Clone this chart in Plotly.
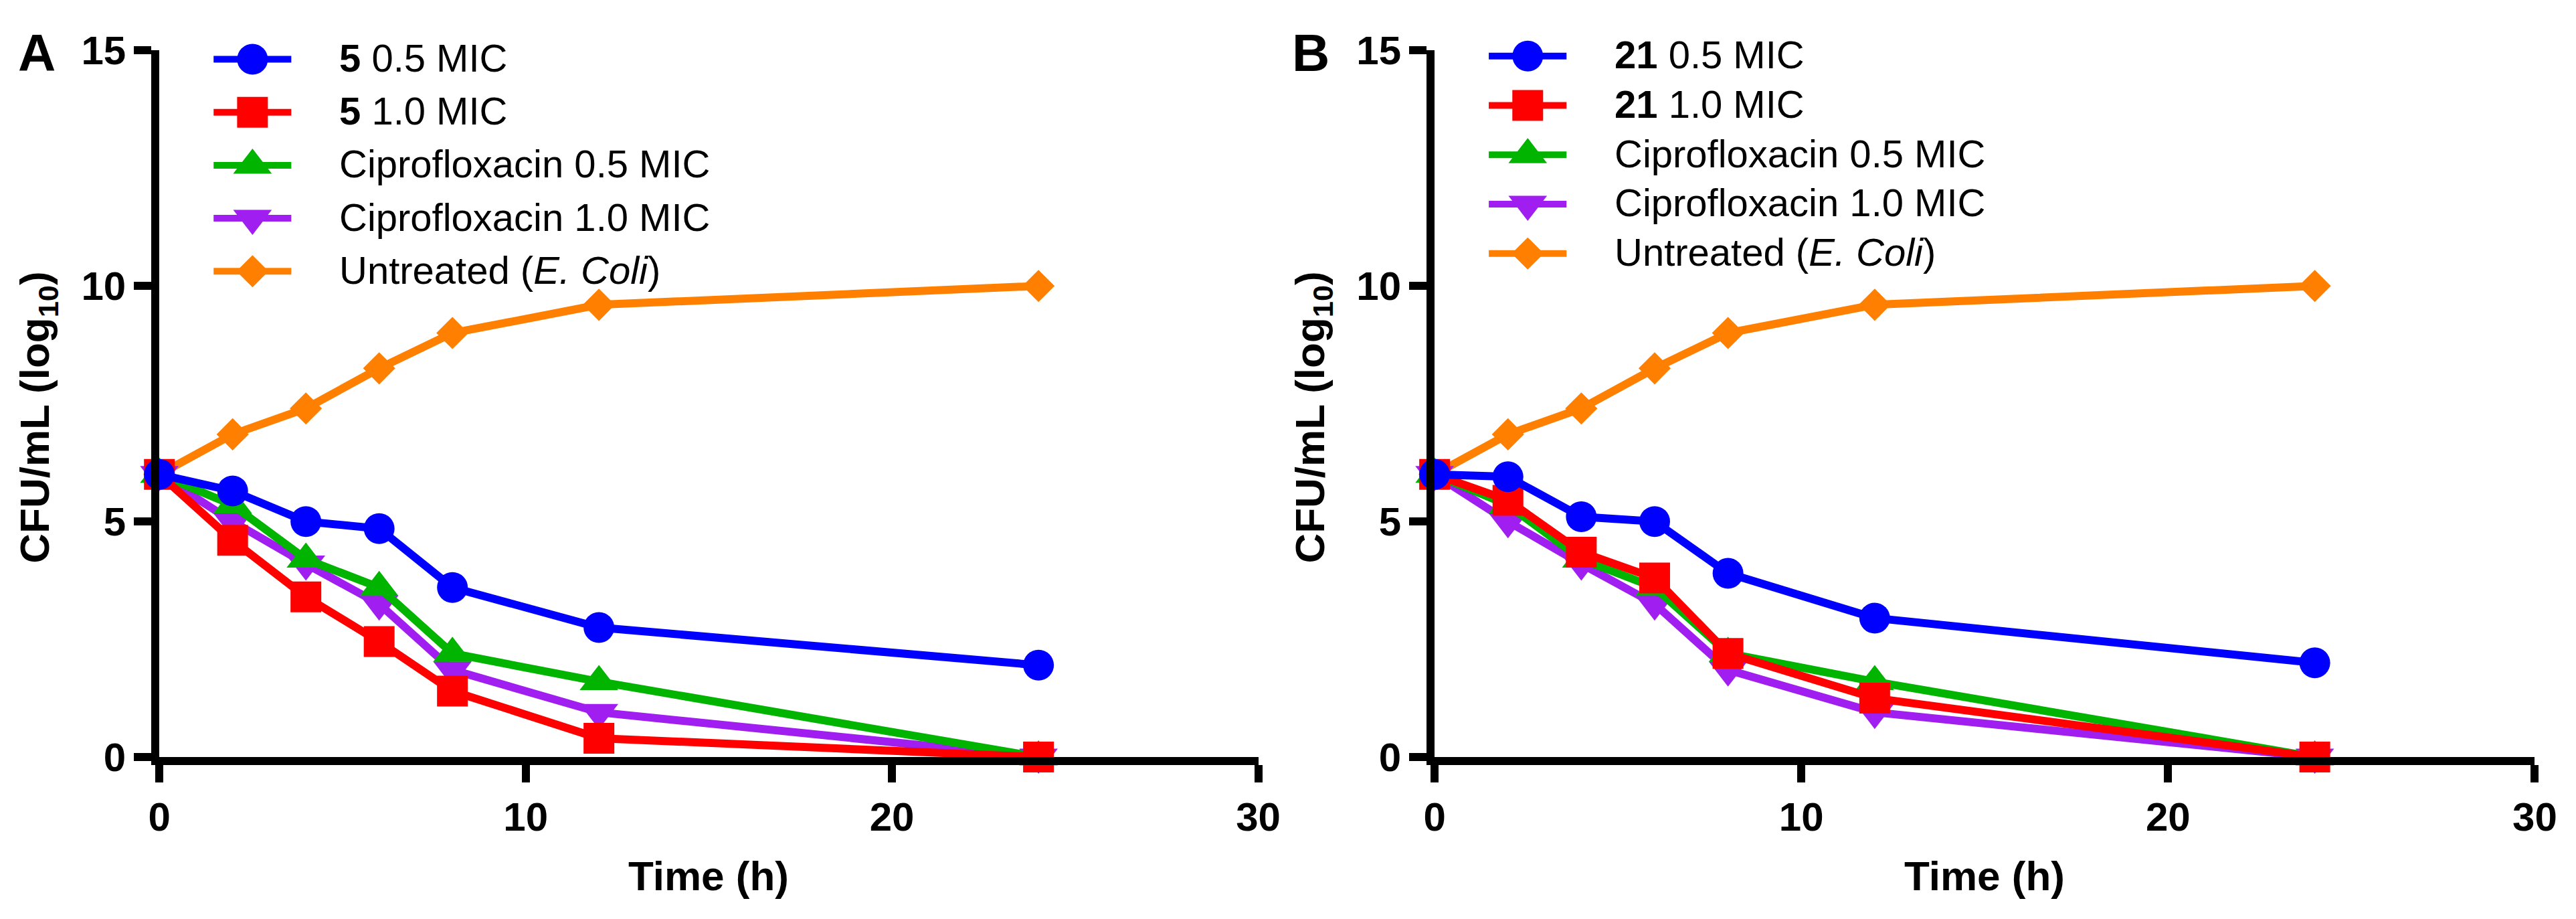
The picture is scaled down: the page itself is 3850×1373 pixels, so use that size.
import plotly.graph_objects as go

# sampling times (h)
time_h = [0, 2, 4, 6, 8, 12, 24]

# panel A - compound 5
cmpd5_05 = [6.0, 5.65, 5.0, 4.85, 3.6, 2.75, 1.95]
cmpd5_10 = [6.0, 4.6, 3.4, 2.45, 1.4, 0.4, 0.0]
# panel B - compound 21
cmpd21_05 = [6.0, 5.95, 5.1, 5.0, 3.9, 2.95, 2.0]
cmpd21_10 = [6.0, 5.45, 4.35, 3.8, 2.2, 1.25, 0.0]
# controls (same in both panels)
cipro_05 = [6.0, 5.35, 4.2, 3.6, 2.2, 1.6, 0.0]
cipro_10 = [6.0, 5.0, 4.1, 3.25, 1.85, 0.95, 0.0]
untreated = [6.0, 6.85, 7.4, 8.25, 9.0, 9.6, 10.0]

names_a = ["<b>5</b> 0.5 MIC", "<b>5</b> 1.0 MIC", "Ciprofloxacin 0.5 MIC",
           "Ciprofloxacin 1.0 MIC", "Untreated (<i>E. Coli</i>)"]
names_b = ["<b>21</b> 0.5 MIC", "<b>21</b> 1.0 MIC", "Ciprofloxacin 0.5 MIC",
           "Ciprofloxacin 1.0 MIC", "Untreated (<i>E. Coli</i>)"]

x_ticks = [0, 10, 20, 30]
y_ticks = [0, 5, 10, 15]

colors = ["#0000FF", "#FF0000", "#00B400", "#A01EF0", "#FF8000"]
symbols = ["circle", "square", "triangle-up", "triangle-down", "diamond"]
msizes = [46, 46, 50, 50, 37]

W, H = 3850, 1373
FONT = "Liberation Sans, Arial, sans-serif"

def px_x(p):
    return p / W

def px_y(p):
    # pixel measured from the top -> paper fraction
    return (H - p) / H

fig = go.Figure()

panels = [
    ("x", "y", [cmpd5_05, cmpd5_10, cipro_05, cipro_10, untreated]),
    ("x2", "y2", [cmpd21_05, cmpd21_10, cipro_05, cipro_10, untreated]),
]

# draw orange first so blue ends up on top
for xa, ya, series in panels:
    for i in reversed(range(5)):
        fig.add_trace(go.Scatter(
            x=time_h, y=series[i], xaxis=xa, yaxis=ya,
            mode="lines+markers", cliponaxis=False, showlegend=False,
            line=dict(color=colors[i], width=12),
            marker=dict(symbol=symbols[i], size=msizes[i], color=colors[i],
                        line=dict(width=0)),
        ))

# hand-made legends (plotly caps legend marker size)
legends = [("x3", "y3", names_a), ("x4", "y4", names_b)]
for xa, ya, names in legends:
    for i in reversed(range(5)):
        fig.add_trace(go.Scatter(
            x=[0, 1], y=[i, i], xaxis=xa, yaxis=ya, mode="lines",
            showlegend=False, hoverinfo="skip",
            line=dict(color=colors[i], width=10)))
        fig.add_trace(go.Scatter(
            x=[0.5], y=[i], xaxis=xa, yaxis=ya, mode="markers",
            cliponaxis=False, showlegend=False, hoverinfo="skip",
            marker=dict(symbol=symbols[i], size=msizes[i], color=colors[i],
                        line=dict(width=0))))
        fig.add_annotation(x=1, y=i, xref=xa, yref=ya, text=names[i],
                           showarrow=False, xanchor="left", yanchor="middle",
                           xshift=69, yshift=2,
                           font=dict(family=FONT, size=58, color="black"))

axis_common = dict(
    showline=True, linewidth=12, linecolor="black", mirror=False,
    ticks="outside", ticklen=26, tickwidth=12, tickcolor="black",
    showgrid=False, zeroline=False,
    tickfont=dict(family=FONT, size=60, color="black", weight="bold"),
)

y_bot, y_top = px_y(1146), px_y(36)
fig.update_layout(
    width=W, height=H,
    margin=dict(l=0, r=0, t=0, b=0),
    paper_bgcolor="white", plot_bgcolor="rgba(0,0,0,0)",
    xaxis=dict(domain=[px_x(216), px_x(1880)], range=[0, 30],
               tickvals=x_ticks, anchor="y", **axis_common),
    yaxis=dict(domain=[y_bot, y_top], range=[0, 15],
               tickvals=y_ticks, anchor="x", **axis_common),
    xaxis2=dict(domain=[px_x(2147), px_x(3813)], range=[0, 30],
                tickvals=x_ticks, anchor="y2", **axis_common),
    yaxis2=dict(domain=[y_bot, y_top], range=[0, 15],
                tickvals=y_ticks, anchor="x2", **axis_common),
    xaxis3=dict(domain=[px_x(298), px_x(416)], range=[0, 1],
                visible=False, anchor="y3"),
    yaxis3=dict(domain=[px_y(383 + 41.6), px_y(50 - 41.6)], range=[4.5, -0.5],
                visible=False, anchor="x3"),
    xaxis4=dict(domain=[px_x(2229), px_x(2347)], range=[0, 1],
                visible=False, anchor="y4"),
    yaxis4=dict(domain=[px_y(355 + 38.75), px_y(45 - 38.75)], range=[4.5, -0.5],
                visible=False, anchor="x4"),
)

# axis titles and panel letters
for cx, letter, lx in [(1048, "A", 30), (2980, "B", 1959)]:
    fig.add_annotation(x=px_x(cx), y=px_y(1333), xref="paper", yref="paper",
                       text="<b>Time (h)</b>", showarrow=False,
                       xanchor="center", yanchor="middle",
                       font=dict(family=FONT, size=62, color="black"))
    fig.add_annotation(x=px_x(lx), y=px_y(40), xref="paper", yref="paper",
                       text="<b>" + letter + "</b>", showarrow=False,
                       xanchor="center", yanchor="middle",
                       font=dict(family=FONT, size=78, color="black"))
for tx in [32, 1963]:
    fig.add_annotation(x=px_x(tx), y=px_y(613), xref="paper", yref="paper",
                       text="<b>CFU/mL (log<sub>10</sub>)</b>", showarrow=False,
                       textangle=-90, xanchor="center", yanchor="middle",
                       font=dict(family=FONT, size=62, color="black"))

fig.write_html("out.html")
